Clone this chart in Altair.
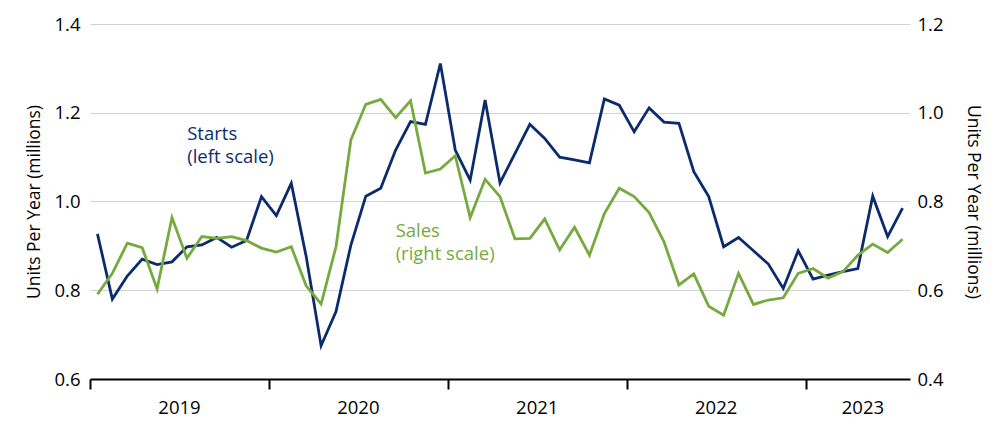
import altair as alt
import pandas as pd

# Monthly data Jan 2019 .. Jul 2023
starts = [0.927, 0.780, 0.832, 0.870, 0.858, 0.864, 0.898, 0.902, 0.919, 0.897, 0.912, 1.011,
          0.968, 1.041, 0.876, 0.675, 0.752, 0.902, 1.012, 1.030, 1.116, 1.180, 1.174, 1.311,
          1.116, 1.048, 1.229, 1.042, 1.108, 1.174, 1.142, 1.100, 1.094, 1.087, 1.231, 1.217,
          1.157, 1.211, 1.179, 1.176, 1.067, 1.011, 0.898, 0.919, 0.889, 0.859, 0.804, 0.889,
          0.825, 0.834, 0.842, 0.849, 1.012, 0.921, 0.985]
sales = [0.591, 0.638, 0.706, 0.696, 0.603, 0.764, 0.672, 0.721, 0.717, 0.721, 0.712, 0.695,
         0.686, 0.698, 0.610, 0.569, 0.698, 0.939, 1.019, 1.030, 0.989, 1.027, 0.864, 0.873,
         0.903, 0.764, 0.850, 0.811, 0.716, 0.717, 0.761, 0.691, 0.742, 0.679, 0.773, 0.830,
         0.811, 0.775, 0.709, 0.612, 0.637, 0.564, 0.544, 0.638, 0.568, 0.578, 0.583, 0.638,
         0.649, 0.627, 0.642, 0.679, 0.704, 0.685, 0.715]
years = ["2019", "2020", "2021", "2022", "2023"]
left_ticks = [0.6, 0.8, 1.0, 1.2, 1.4]
right_ticks = [0.4, 0.6, 0.8, 1.0, 1.2]

NAVY = "#0c2b6c"
GREEN = "#76aa3e"
FONT = "Open Sans"
FS = 18.5

n = len(starts)
total_months = n
df = pd.DataFrame({
    "m": [i + 0.5 for i in range(n)],
    "starts": starts,
    "sales": sales,
})

year_starts = [12 * k for k in range(len(years))]
year_df = pd.DataFrame({
    "year": years,
    "pos": [min(s + 6, total_months) for s in year_starts],
    "align": ["center"] * (len(years) - 1) + ["right"],
})

xscale = alt.Scale(domain=[0, total_months], nice=False, zero=False)
x_axis = alt.Axis(values=year_starts, labels=False, tickSize=10, tickColor="black",
                  tickWidth=2, domainColor="black", domainWidth=2, grid=False, title=None)

left = alt.Chart(df).mark_line(color=NAVY, strokeWidth=2.8).encode(
    x=alt.X("m:Q", scale=xscale, axis=x_axis),
    y=alt.Y("starts:Q", scale=alt.Scale(domain=[0.6, 1.4], nice=False, zero=False),
            axis=alt.Axis(values=left_ticks, format=".1f", title="Units Per Year (millions)",
                          grid=True, gridColor="#d2d2d2", gridWidth=1.2, ticks=False,
                          domain=False, labelPadding=10, titlePadding=10)),
)

right = alt.Chart(df).mark_line(color=GREEN, strokeWidth=2.8).encode(
    x=alt.X("m:Q", scale=xscale),
    y=alt.Y("sales:Q", scale=alt.Scale(domain=[0.4, 1.2], nice=False, zero=False),
            axis=alt.Axis(values=right_ticks, format=".1f", title="Units Per Year (millions)",
                          orient="right", grid=False, ticks=False, domain=False,
                          labelPadding=7, titlePadding=20, titleAngle=90)),
)

yr_center = alt.Chart(year_df[year_df["align"] == "center"]).mark_text(
    fontSize=FS, font=FONT, color="black", align="center", baseline="middle"
).encode(x=alt.X("pos:Q", scale=xscale), y=alt.value(383 - 24 + 25), text="year:N")

yr_right = alt.Chart(year_df[year_df["align"] == "right"]).mark_text(
    fontSize=FS, font=FONT, color="black", align="right", baseline="middle", dx=-11
).encode(x=alt.X("pos:Q", scale=xscale), y=alt.value(383 - 24 + 25), text="year:N")

lab_df = pd.DataFrame({
    "m": [6.52, 20.5],
    "txt": [["Starts", "(left scale)"], ["Sales", "(right scale)"]],
    "series": ["Starts", "Sales"],
})

starts_lab = alt.Chart(lab_df[lab_df.series == "Starts"]).mark_text(
    fontSize=FS, font=FONT, color=NAVY, align="left", baseline="top", lineHeight=23
).encode(x=alt.X("m:Q", scale=xscale), y=alt.value(125 - 24), text="txt")

sales_lab = alt.Chart(lab_df[lab_df.series == "Sales"]).mark_text(
    fontSize=FS, font=FONT, color=GREEN, align="left", baseline="top", lineHeight=23
).encode(x=alt.X("m:Q", scale=xscale), y=alt.value(222 - 24), text="txt")

chart = alt.layer(left, right, yr_center, yr_right, starts_lab, sales_lab).resolve_scale(
    y="independent"
).properties(
    width=820, height=355,
    autosize=alt.AutoSizeParams(type="none"),
    padding={"left": 82, "top": 16, "right": 80, "bottom": 45},
).configure_view(stroke=None).configure_axis(
    labelFont=FONT, titleFont=FONT, labelFontSize=FS, titleFontSize=17.5,
    labelColor="black", titleColor="black", titleFontWeight="normal",
)

chart.save("out.html", embed_options={"renderer": "svg", "actions": False})
